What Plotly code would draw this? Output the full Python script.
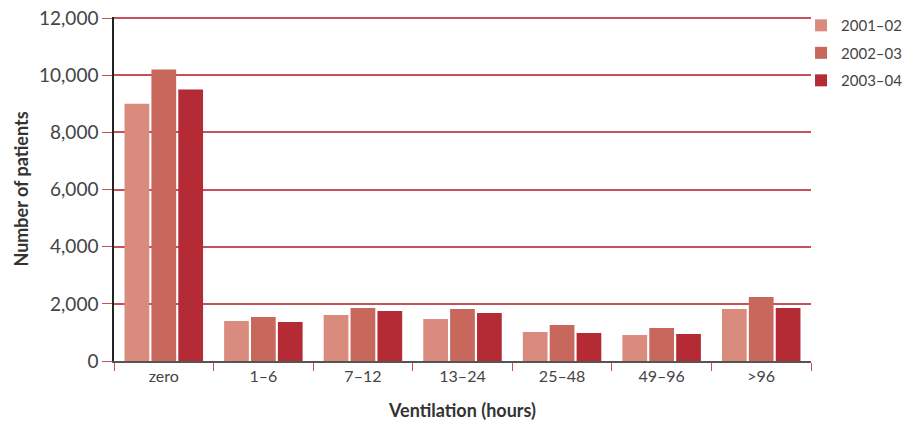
import plotly.graph_objects as go

categories = ["zero", "1–6", "7–12", "13–24", "25–48", "49–96", ">96"]
s2001 = [9000, 1400, 1610, 1470, 1015, 910, 1820]
s2002 = [10200, 1540, 1855, 1820, 1260, 1155, 2240]
s2003 = [9500, 1365, 1750, 1680, 980, 945, 1855]
series_names = ["2001–02", "2002–03", "2003–04"]
colors = ["#D98B7E", "#C8675C", "#B52B35"]
tick_vals = [0, 2000, 4000, 6000, 8000, 10000, 12000]
tick_text = ["0", "2,000", "4,000", "6,000", "8,000", "10,000", "12,000"]

fig = go.Figure()
for name, vals, c in zip(series_names, [s2001, s2002, s2003], colors):
    fig.add_trace(go.Bar(x=categories, y=vals, name=name, marker_color=c,
                         marker_line_width=0, legendgroup=name))

fig.update_layout(
    width=904, height=425,
    margin=dict(l=114, r=93, t=17, b=64, autoexpand=False),
    paper_bgcolor="white", plot_bgcolor="white",
    barmode="group", bargap=0.19, bargroupgap=0.08,
    font=dict(family="Lato", color="#444444"),
    legend=dict(x=0.9857, y=1.023, xanchor="left", yanchor="top",
                font=dict(size=15, color="#444444"), itemwidth=30,
                tracegroupgap=5, bgcolor="rgba(0,0,0,0)"),
    xaxis=dict(
        showline=True, linecolor="#555555", linewidth=2,
        ticks="outside", tickson="boundaries", ticklen=8, tickcolor="#C8505A",
        tickfont=dict(size=16, color="#444444"),
        title=dict(text="<b>Ventilation (hours)</b>", font=dict(size=18, color="#333333"),
                   standoff=20),
    ),
    yaxis=dict(
        range=[0, 12040], tickvals=tick_vals, ticktext=tick_text,
        showgrid=True, gridcolor="#C8505A", gridwidth=1.5,
        showline=True, linecolor="#222222", linewidth=1.5,
        ticks="outside", ticklen=10, tickcolor="#C8505A",
        tickfont=dict(size=19, color="#444444"),
        zeroline=False,
        title=dict(text="<b>Number of patients</b>", font=dict(size=18, color="#333333"),
                   standoff=6),
    ),
)

fig.write_html("out.html")
